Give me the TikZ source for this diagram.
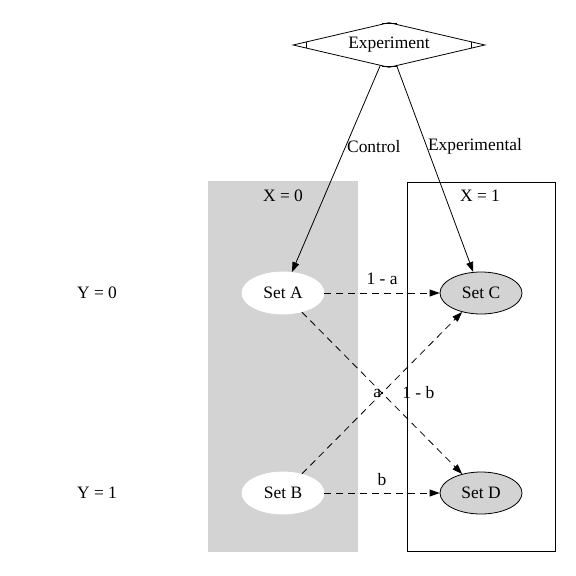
\documentclass[tikz,border=0pt]{standalone}
\usepackage{fontspec}
\setmainfont{Liberation Serif}
\usetikzlibrary{arrows.meta,calc,shapes.geometric}
\definecolor{clgray}{RGB}{211,211,211}
\tikzset{
  every node/.style={font=\fontsize{17.5}{20}\selectfont},
  setnode/.style={ellipse, minimum width=82bp, minimum height=42bp, inner sep=0pt, line width=0.8bp},
  ctrlset/.style={setnode, draw=white, fill=white},
  expset/.style={setnode, draw=black, fill=clgray},
  choice/.style={diamond, draw, line width=0.8bp, aspect=4.27, minimum width=192bp, minimum height=45bp, inner sep=0pt},
  lbl/.style={inner sep=1bp},
  flow/.style={line width=0.8bp, -{Triangle[length=10bp,width=7bp]}},
  assign/.style={flow, dash pattern=on 7bp off 5bp},
}

\begin{document}
\begin{tikzpicture}[x=1bp, y=-1bp]
    \useasboundingbox (0,0) rectangle (576,576);

    % Clusters
    \fill[clgray] (208,181) rectangle (358,552);
    \draw[line width=0.8bp] (407,182) rectangle (555,551);
    \node (x0) at (283,196) {X = 0};
    \node (x1) at (480,196) {X = 1};

    % Nodes
    \node[choice] (exp) at (389,45) {Experiment};
    \draw[line width=0.8bp] ($(exp.west)+(14,-3.3)$) -- ($(exp.west)+(14,3.3)$);
    \draw[line width=0.8bp] ($(exp.east)+(-14,-3.3)$) -- ($(exp.east)+(-14,3.3)$);
    \draw[line width=0.8bp] ($(exp.north)+(-7.5,1.8)$) -- ($(exp.north)+(7.5,1.8)$);
    \draw[line width=0.8bp] ($(exp.south)+(-7.5,-1.8)$) -- ($(exp.south)+(7.5,-1.8)$);

    \node (y0) at (97,293) {Y = 0};
    \node (y1) at (97,493) {Y = 1};

    \node[ctrlset] (setA) at (283,293) {Set A};
    \node[ctrlset] (setB) at (283,493) {Set B};
    \node[expset] (setC) at (481,293) {Set C};
    \node[expset] (setD) at (481,493) {Set D};

    % Edges
    \draw[flow] (exp) -- (setA) node[lbl, pos=0.39, anchor=west] {Control};
    \draw[flow] (exp) -- (setC) node[lbl, pos=0.39, anchor=west] {Experimental};

    \draw[assign] (setA) -- (setC) node[lbl, midway, above=7bp] {1 - a};
    \draw[assign] (setA) -- (setD) node[lbl, pos=0.47, yshift=-5bp] {a};
    \draw[assign] (setB) -- (setC) node[lbl, midway, anchor=west, xshift=19bp] {1 - b};
    \draw[assign] (setB) -- (setD) node[lbl, midway, above=6bp] {b};
\end{tikzpicture}
\end{document}
